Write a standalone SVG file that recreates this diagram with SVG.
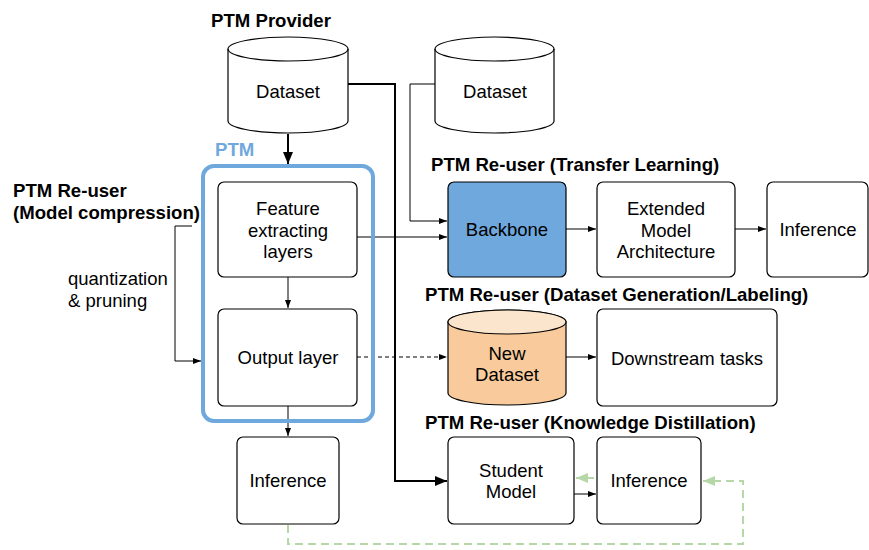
<svg xmlns="http://www.w3.org/2000/svg" width="869" height="550" viewBox="0 0 869 550">
<defs>
<style>
.t{font-family:"Liberation Sans",Arial,sans-serif;font-size:18.5px;fill:#000;text-anchor:middle}
.b{font-family:"Liberation Sans",Arial,sans-serif;font-size:18.6px;font-weight:bold;fill:#000}
.box{fill:#fff;stroke:#000;stroke-width:1.2}
.ln{fill:none;stroke:#000;stroke-width:1}
.bold{fill:none;stroke:#000;stroke-width:2}
.dash{fill:none;stroke:#000;stroke-width:1;stroke-dasharray:4,3}
.green{fill:none;stroke:#b6d7a8;stroke-width:2;stroke-dasharray:8,5}
</style>
<marker id="a" markerUnits="userSpaceOnUse" markerWidth="8" markerHeight="6" refX="8" refY="3" orient="auto"><path d="M0,0 L8,3 L0,6 z" fill="#000"/></marker>
<marker id="ab" markerUnits="userSpaceOnUse" markerWidth="12" markerHeight="10" refX="12" refY="5" orient="auto"><path d="M0,0 L12,5 L0,10 z" fill="#000"/></marker>
<marker id="ag" markerUnits="userSpaceOnUse" markerWidth="12" markerHeight="10" refX="12" refY="5" orient="auto"><path d="M0,0 L12,5 L0,10 z" fill="#b6d7a8"/></marker>
</defs>
<rect width="869" height="550" fill="#fff"/>

<g id="labels">
<text class="b" x="271" y="27" text-anchor="middle">PTM Provider</text>
<text class="b" x="13" y="197">PTM Re-user</text>
<text class="b" x="13" y="219">(Model compression)</text>
<text class="t" x="68" y="285" style="text-anchor:start">quantization</text>
<text class="t" x="68" y="307" style="text-anchor:start">&amp; pruning</text>
<text class="b" x="431" y="171">PTM Re-user (Transfer Learning)</text>
<text class="b" x="425" y="301">PTM Re-user (Dataset Generation/Labeling)</text>
<text class="b" x="425" y="429">PTM Re-user (Knowledge Distillation)</text>
</g>

<g id="connectors">
<path class="bold" d="M288,134 V164" marker-end="url(#ab)"/>
<path class="bold" d="M348,84 H395 V481 H447" marker-end="url(#ab)"/>
<path class="ln" d="M435,84 H410 V221 H447" marker-end="url(#a)"/>
<path class="ln" d="M357,237 H447" marker-end="url(#a)"/>
<path class="ln" d="M288,277 V308" marker-end="url(#a)"/>
<path class="ln" d="M288,406 V436" marker-end="url(#a)"/>
<path class="dash" d="M357,357 H447" marker-end="url(#a)"/>
<path class="ln" d="M192,226 H175 V361 H201" marker-end="url(#a)"/>
<path class="ln" d="M566,229 H596" marker-end="url(#a)"/>
<path class="ln" d="M735,229 H766" marker-end="url(#a)"/>
<path class="ln" d="M566,357 H596" marker-end="url(#a)"/>
<path class="ln" d="M574,494 H596" marker-end="url(#a)"/>
<path class="green" d="M594,478 H576" marker-end="url(#ag)"/>
<path class="green" d="M288,525 V544 H743 V481 H703" marker-end="url(#ag)"/>
</g>

<g id="dataset-provider">
<path d="M228,49 A60,12 0 0,1 348,49 V121 A60,12 0 0,1 228,121 Z" fill="#fff" stroke="#000" stroke-width="1.2"/>
<path d="M228,49 A60,12 0 0,0 348,49" fill="none" stroke="#000" stroke-width="1.2"/>
<text class="t" x="288" y="98">Dataset</text>
</g>

<g id="dataset-transfer">
<path d="M435,49 A59.5,12 0 0,1 554,49 V121 A59.5,12 0 0,1 435,121 Z" fill="#fff" stroke="#000" stroke-width="1.2"/>
<path d="M435,49 A59.5,12 0 0,0 554,49" fill="none" stroke="#000" stroke-width="1.2"/>
<text class="t" x="495" y="98">Dataset</text>
</g>

<g id="ptm">
<text class="b" x="215" y="156" style="fill:#6fa8dc">PTM</text>
<rect x="203" y="166" width="170" height="255" rx="11" fill="none" stroke="#6fa8dc" stroke-width="4"/>
</g>

<g id="feature-layers">
<rect class="box" x="218" y="182" width="139" height="95" rx="6"/>
<text class="t" x="288" y="215">Feature</text>
<text class="t" x="288" y="237">extracting</text>
<text class="t" x="288" y="258">layers</text>
</g>

<g id="output-layer">
<rect class="box" x="218" y="309" width="139" height="97" rx="6"/>
<text class="t" x="288" y="364">Output layer</text>
</g>

<g id="inference-compression">
<rect class="box" x="237" y="437" width="102" height="87" rx="6"/>
<text class="t" x="288" y="487">Inference</text>
</g>

<g id="backbone">
<rect x="448" y="182" width="118" height="95" rx="6" fill="#6fa8dc" stroke="#000" stroke-width="1.2"/>
<text class="t" x="507" y="236">Backbone</text>
</g>

<g id="extended">
<rect class="box" x="597" y="182" width="138" height="95" rx="6"/>
<text class="t" x="666" y="215">Extended</text>
<text class="t" x="666" y="237">Model</text>
<text class="t" x="666" y="258">Architecture</text>
</g>

<g id="inference-transfer">
<rect class="box" x="767" y="182" width="101" height="95" rx="6"/>
<text class="t" x="818" y="236">Inference</text>
</g>

<g id="new-dataset">
<path d="M448,322 A59,12 0 0,1 566,322 V393 A59,12 0 0,1 448,393 Z" fill="#f9cb9c" stroke="#000" stroke-width="1.2"/>
<ellipse cx="507" cy="322" rx="59" ry="12" fill="#fce5cd" stroke="#000" stroke-width="1.2"/>
<text class="t" x="507" y="360">New</text>
<text class="t" x="507" y="381">Dataset</text>
</g>

<g id="downstream">
<rect class="box" x="597" y="309" width="180" height="97" rx="6"/>
<text class="t" x="687" y="365">Downstream tasks</text>
</g>

<g id="student">
<rect class="box" x="448" y="437" width="126" height="87" rx="6"/>
<text class="t" x="511" y="477">Student</text>
<text class="t" x="511" y="498">Model</text>
</g>

<g id="inference-kd">
<rect class="box" x="597" y="437" width="104" height="87" rx="6"/>
<text class="t" x="649" y="487">Inference</text>
</g>
</svg>
